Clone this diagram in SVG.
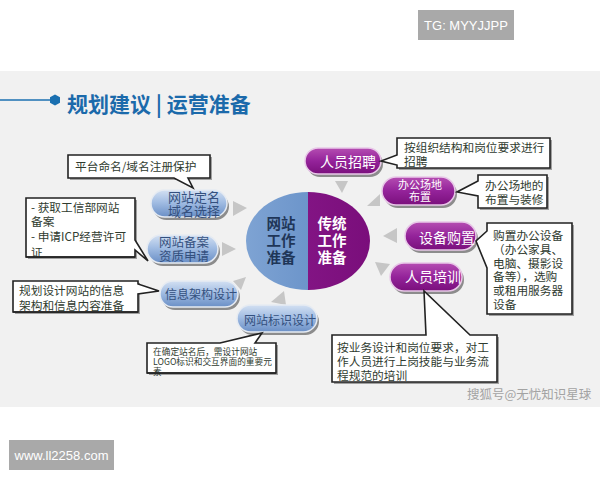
<svg xmlns="http://www.w3.org/2000/svg" width="600" height="480" viewBox="0 0 600 480">
<defs>
<linearGradient id="gBluePill" x1="0" y1="0" x2="0" y2="1">
<stop offset="0" stop-color="#d3e0f2"/>
<stop offset="0.45" stop-color="#a2bde3"/>
<stop offset="1" stop-color="#6a8fc6"/>
</linearGradient>
<linearGradient id="gPurplePill" x1="0" y1="0" x2="0" y2="1">
<stop offset="0" stop-color="#b54db2"/>
<stop offset="0.5" stop-color="#94239a"/>
<stop offset="1" stop-color="#7a0f7c"/>
</linearGradient>
<linearGradient id="gBlueEll" x1="0" y1="0" x2="1" y2="0">
<stop offset="0" stop-color="#7ea3d3"/>
<stop offset="1" stop-color="#5b87c2"/>
</linearGradient>
<linearGradient id="gPurpleEll" x1="0" y1="0" x2="1" y2="0">
<stop offset="0" stop-color="#8a1a8c"/>
<stop offset="1" stop-color="#7a0e7b"/>
</linearGradient>
<clipPath id="cLeft"><rect x="240" y="185" width="68" height="115"/></clipPath>
<clipPath id="cRight"><rect x="308" y="185" width="70" height="115"/></clipPath>
</defs>
<style>
.cjk{font-family:"Noto Sans CJK SC","Noto Sans",sans-serif;}
.call{fill:#ffffff;stroke:#222222;stroke-width:1.6;stroke-linejoin:miter;}
.callsh{fill:#a0a0a0;}
.ct{font-size:11.7px;fill:#2f3b2f;}
.ctsm{font-size:8.7px;fill:#2f3b2f;}
.bp{fill:url(#gBluePill);stroke:#e6ebf2;stroke-width:1.5;}
.pp{fill:url(#gPurplePill);stroke:#e8c8e8;stroke-width:1.5;}
.psh{fill:#8c8c8c;}
.bt{fill:#34507e;text-anchor:middle;}
.pt{fill:#ffffff;text-anchor:middle;}
.arr{fill:#c6c6c6;}
</style>
<rect x="0" y="0" width="600" height="480" fill="#ffffff"/>
<rect x="0" y="71" width="600" height="336" fill="#f1f1f1"/>
<g id="tg">
<rect x="418" y="10" width="96" height="30" fill="#a9a9a9"/>
<text x="466" y="30" font-family="Liberation Sans, Arial, sans-serif" font-size="13" fill="#ffffff" text-anchor="middle">TG: MYYJJPP</text>
</g>
<g id="title">
<line x1="0" y1="100" x2="52" y2="100" stroke="#1a6fb0" stroke-width="1.5"/>
<polygon points="55,94.5 60,97.2 60,102.8 55,105.5 50,102.8 50,97.2" fill="#1a6fb0"/>
<text x="67" y="112" class="cjk" font-size="21" font-weight="bold" fill="#1b6aab">规划建议 | 运营准备</text>
</g>
<g id="connectors">
<polygon class="arr" points="233,201 233,216 247,208"/>
<polygon class="arr" points="222,242 222,256 236,249"/>
<polygon class="arr" points="233,281 246,277 241,290"/>
<polygon class="arr" points="284,291 271,302 286,305"/>
<polygon class="arr" points="335,181 348,181 342,193"/>
<polygon class="arr" points="380,194 380,206 367,206"/>
<polygon class="arr" points="397,228 397,243 383,236"/>
<polygon class="arr" points="375,262 390,264 381,276"/>
</g>
<g id="center">
<ellipse cx="308" cy="241" rx="62" ry="49" fill="url(#gBlueEll)" clip-path="url(#cLeft)"/>
<ellipse cx="308" cy="241" rx="62" ry="49" fill="url(#gPurpleEll)" clip-path="url(#cRight)"/>
<text class="cjk" font-size="14.5" font-weight="bold" text-anchor="middle" fill="#1f3658"><tspan x="281" y="229">网站</tspan><tspan x="281" y="246">工作</tspan><tspan x="281" y="263">准备</tspan></text>
<text class="cjk" font-size="14.5" font-weight="bold" text-anchor="middle" fill="#ffffff"><tspan x="332" y="229">传统</tspan><tspan x="332" y="246">工作</tspan><tspan x="332" y="263">准备</tspan></text>
</g>
<g id="n-dingming">
<rect class="psh" x="153" y="193" width="76" height="27" rx="13.5"/>
<rect class="bp" x="151" y="190" width="76" height="27" rx="13.5"/>
<text class="cjk bt" font-size="13"><tspan x="194" y="202">网站定名</tspan><tspan x="194" y="216">域名选择</tspan></text>
</g>
<g id="n-beian">
<rect class="psh" x="149" y="238" width="71" height="28" rx="14"/>
<rect class="bp" x="147" y="235" width="71" height="28" rx="14"/>
<text class="cjk bt" font-size="12.5"><tspan x="184" y="247">网站备案</tspan><tspan x="184" y="261">资质申请</tspan></text>
</g>
<g id="n-xinxi">
<rect class="psh" x="162" y="284" width="78" height="26" rx="13"/>
<rect class="bp" x="160" y="281" width="78" height="26" rx="13"/>
<text class="cjk bt" x="201" y="299" font-size="12">信息架构设计</text>
</g>
<g id="n-biaoshi">
<rect class="psh" x="239" y="308" width="80" height="27" rx="13.5"/>
<rect class="bp" x="237" y="305" width="80" height="27" rx="13.5"/>
<text class="cjk bt" x="280" y="325" font-size="12">网站标识设计</text>
</g>
<g id="n-zhaopin">
<rect class="psh" x="307" y="151" width="76" height="26" rx="13"/>
<rect class="pp" x="305" y="148" width="76" height="26" rx="13"/>
<text class="cjk pt" x="348" y="167" font-size="14">人员招聘</text>
</g>
<g id="n-changdi">
<rect class="psh" x="384" y="180" width="73" height="28" rx="14"/>
<rect class="pp" x="382" y="177" width="73" height="28" rx="14"/>
<text class="cjk pt" font-size="11"><tspan x="420" y="189">办公场地</tspan><tspan x="420" y="201">布置</tspan></text>
</g>
<g id="n-gouzhi">
<rect class="psh" x="407" y="225" width="71" height="28" rx="14"/>
<rect class="pp" x="405" y="222" width="71" height="28" rx="14"/>
<text class="cjk pt" x="447" y="243" font-size="14">设备购置</text>
</g>
<g id="n-peixun">
<rect class="psh" x="392" y="266" width="72" height="28" rx="14"/>
<rect class="pp" x="390" y="263" width="72" height="28" rx="14"/>
<text class="cjk pt" x="433" y="282" font-size="14">人员培训</text>
</g>
<g id="c-pingtai">
<path class="callsh" d="M70,157 H212 V180 H70 Z"/>
<path class="call" d="M68,155 H210 V178 H188 L193,188 L174,178 H68 Z"/>
<text class="cjk ct" x="75" y="171">平台命名/域名注册保护</text>
</g>
<g id="c-icp">
<path class="callsh" d="M28,200 H137 V259 H28 Z"/>
<path class="call" d="M26,198 H135 V240 L148,261 L135,250 V257 H26 Z"/>
<text class="cjk ct"><tspan x="31" y="212">- 获取工信部网站</tspan><tspan x="31" y="226">备案</tspan><tspan x="31" y="241">- 申请ICP经营许可</tspan><tspan x="31" y="257">证</tspan></text>
<path d="M26,257 H135" stroke="#222" stroke-width="1.6" fill="none"/>
</g>
<g id="c-guihua">
<path class="callsh" d="M15,283 H140 V314 H15 Z"/>
<path class="call" d="M13,281 H138 V284 L159,291 L138,294 V312 H13 Z"/>
<text class="cjk ct"><tspan x="19" y="295">规划设计网站的信息</tspan><tspan x="19" y="310">架构和信息内容准备</tspan></text>
<path d="M13,312 H138" stroke="#222" stroke-width="1.6" fill="none"/>
</g>
<g id="c-logo">
<path class="callsh" d="M149,345 H278 V375 H149 Z"/>
<path class="call" d="M147,343 H220 L262,333 L255,343 H276 V373 H147 Z"/>
<text class="cjk ctsm"><tspan x="153" y="355">在确定站名后，需设计网站</tspan><tspan x="153" y="365">LOGO标识和交互界面的重要元</tspan><tspan x="153" y="375">素</tspan></text>
<path d="M147,373 H276" stroke="#222" stroke-width="1.6" fill="none"/>
</g>
<g id="c-zhaopin">
<path class="callsh" d="M399,140 H552 V170 H399 Z"/>
<path class="call" d="M397,138 H550 V168 H397 V165 L381,161 L397,155 Z"/>
<text class="cjk ct"><tspan x="404" y="152">按组织结构和岗位要求进行</tspan><tspan x="404" y="166">招聘</tspan></text>
</g>
<g id="c-changdi">
<path class="callsh" d="M480,177 H549 V210 H480 Z"/>
<path class="call" d="M478,175 H547 V208 H478 V196 L457,192 L478,181 Z"/>
<text class="cjk ct"><tspan x="485" y="190">办公场地的</tspan><tspan x="485" y="204">布置与装修</tspan></text>
</g>
<g id="c-gouzhi">
<path class="callsh" d="M489,225 H574 V316 H489 Z"/>
<path class="call" d="M487,223 H572 V314 H487 V268 L476,241 L487,231 Z"/>
<text class="cjk ct"><tspan x="493" y="240">购置办公设备</tspan><tspan x="493" y="254">（办公家具、</tspan><tspan x="493" y="268">电脑、摄影设</tspan><tspan x="493" y="281">备等），选购</tspan><tspan x="493" y="295">或租用服务器</tspan><tspan x="493" y="309">设备</tspan></text>
</g>
<g id="c-peixun">
<path class="callsh" d="M334,337 H499 V384 H334 Z"/>
<path class="call" d="M332,335 H426 L424,291 L470,335 H497 V382 H332 Z"/>
<text class="cjk ct"><tspan x="337" y="352">按业务设计和岗位要求，对工</tspan><tspan x="337" y="366">作人员进行上岗技能与业务流</tspan><tspan x="337" y="380">程规范的培训</tspan></text>
</g>
<text x="467" y="399" class="cjk" font-size="12.5" fill="#a3a3a3">搜狐号@无忧知识星球</text>
<g id="site">
<rect x="9" y="440" width="105" height="30" fill="#a9a9a9"/>
<text x="61.5" y="460" font-family="Liberation Sans, Arial, sans-serif" font-size="13" fill="#ffffff" text-anchor="middle">www.ll2258.com</text>
</g>
</svg>
